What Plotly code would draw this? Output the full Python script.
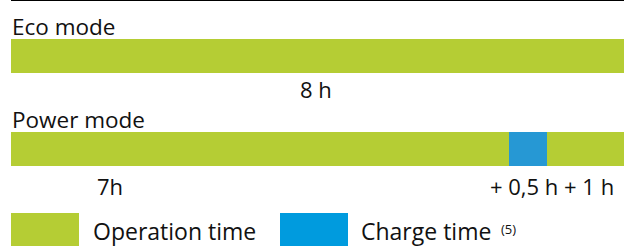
import plotly.graph_objects as go

# ---- data ----
modes = ["Eco mode", "Power mode"]
eco_operation_h = [8]                  # one continuous operation bar
power_segments_h = [6.5, 0.5, 1.0]     # drawn lengths: operation, charge, operation
power_segment_kind = ["Operation time", "Charge time", "Operation time"]
eco_value_label = "8 h"
power_value_labels = ["7h", "+ 0,5 h + 1 h"]
legend_labels = ["Operation time", "Charge time"]
footnote_mark = "(5)"

GREEN = "#B5CD34"
BLUE_BAR = "#2698D4"
BLUE_LEG = "#009BDE"
TXT = "#111111"
FONT = "Open Sans"

W, H = 630, 246
L, R = 11, 6

fig = go.Figure()
bar_w = 34 / 93

fig.add_trace(go.Bar(
    y=[modes[0]], x=eco_operation_h, orientation="h",
    marker=dict(color=GREEN, line=dict(width=0)), width=bar_w,
    hoverinfo="skip", showlegend=False))

for val, kind in zip(power_segments_h, power_segment_kind):
    fig.add_trace(go.Bar(
        y=[modes[1]], x=[val], orientation="h",
        marker=dict(color=GREEN if kind == "Operation time" else BLUE_BAR, line=dict(width=0)),
        width=bar_w, hoverinfo="skip", showlegend=False))

def py(p):  # pixel y -> paper y
    return 1 - p / H

def px(p):  # pixel x -> paper x (paper spans plot area)
    return (p - L) / (W - L - R)

ann = []
ann.append(dict(text=modes[0], x=px(11), y=py(26.5), xanchor="left", yanchor="middle",
                font=dict(size=22.5)))
ann.append(dict(text=modes[1], x=px(11), y=py(119.5), xanchor="left", yanchor="middle",
                font=dict(size=22.5)))
ann.append(dict(text=eco_value_label, x=px(316), y=py(89.5), xanchor="center", yanchor="middle",
                font=dict(size=22)))
ann.append(dict(text=power_value_labels[0], x=px(110), y=py(186), xanchor="center", yanchor="middle",
                font=dict(size=22)))
ann.append(dict(text=power_value_labels[1], x=px(615), y=py(186), xanchor="right", yanchor="middle",
                font=dict(size=22)))
ann.append(dict(text=legend_labels[0], x=px(92), y=py(230.5), xanchor="left", yanchor="middle",
                font=dict(size=23)))
ann.append(dict(text=legend_labels[1], x=px(360), y=py(230.5), xanchor="left", yanchor="middle",
                font=dict(size=23)))
ann.append(dict(text=footnote_mark, x=px(500), y=py(229), xanchor="left", yanchor="middle",
                font=dict(size=13)))
for a in ann:
    a.update(xref="paper", yref="paper", showarrow=False, borderpad=0)
    a["font"].update(family=FONT, color=TXT)

shapes = [
    dict(type="line", xref="paper", yref="paper", x0=0, x1=1, y0=py(0.5), y1=py(0.5),
         line=dict(color="#000000", width=1)),
    dict(type="rect", xref="paper", yref="paper", x0=px(11), x1=px(79), y0=py(213), y1=py(250),
         fillcolor=GREEN, line=dict(width=0)),
    dict(type="rect", xref="paper", yref="paper", x0=px(280), x1=px(348), y0=py(213), y1=py(250),
         fillcolor=BLUE_LEG, line=dict(width=0)),
]

fig.update_layout(
    width=W, height=H, margin=dict(l=L, r=R, t=0, b=0),
    paper_bgcolor="white", plot_bgcolor="white",
    barmode="stack", bargap=0,
    showlegend=False,
    xaxis=dict(range=[0, 8], visible=False, fixedrange=True),
    yaxis=dict(type="category", categoryorder="array", categoryarray=[modes[1], modes[0]],
               range=[-1.043, 1.602], visible=False, fixedrange=True),
    annotations=ann, shapes=shapes,
    font=dict(family=FONT, color=TXT),
)

fig.write_html("out.html", config={"displayModeBar": False},
               post_script="document.body.style.margin='0';document.body.style.padding='0';")
